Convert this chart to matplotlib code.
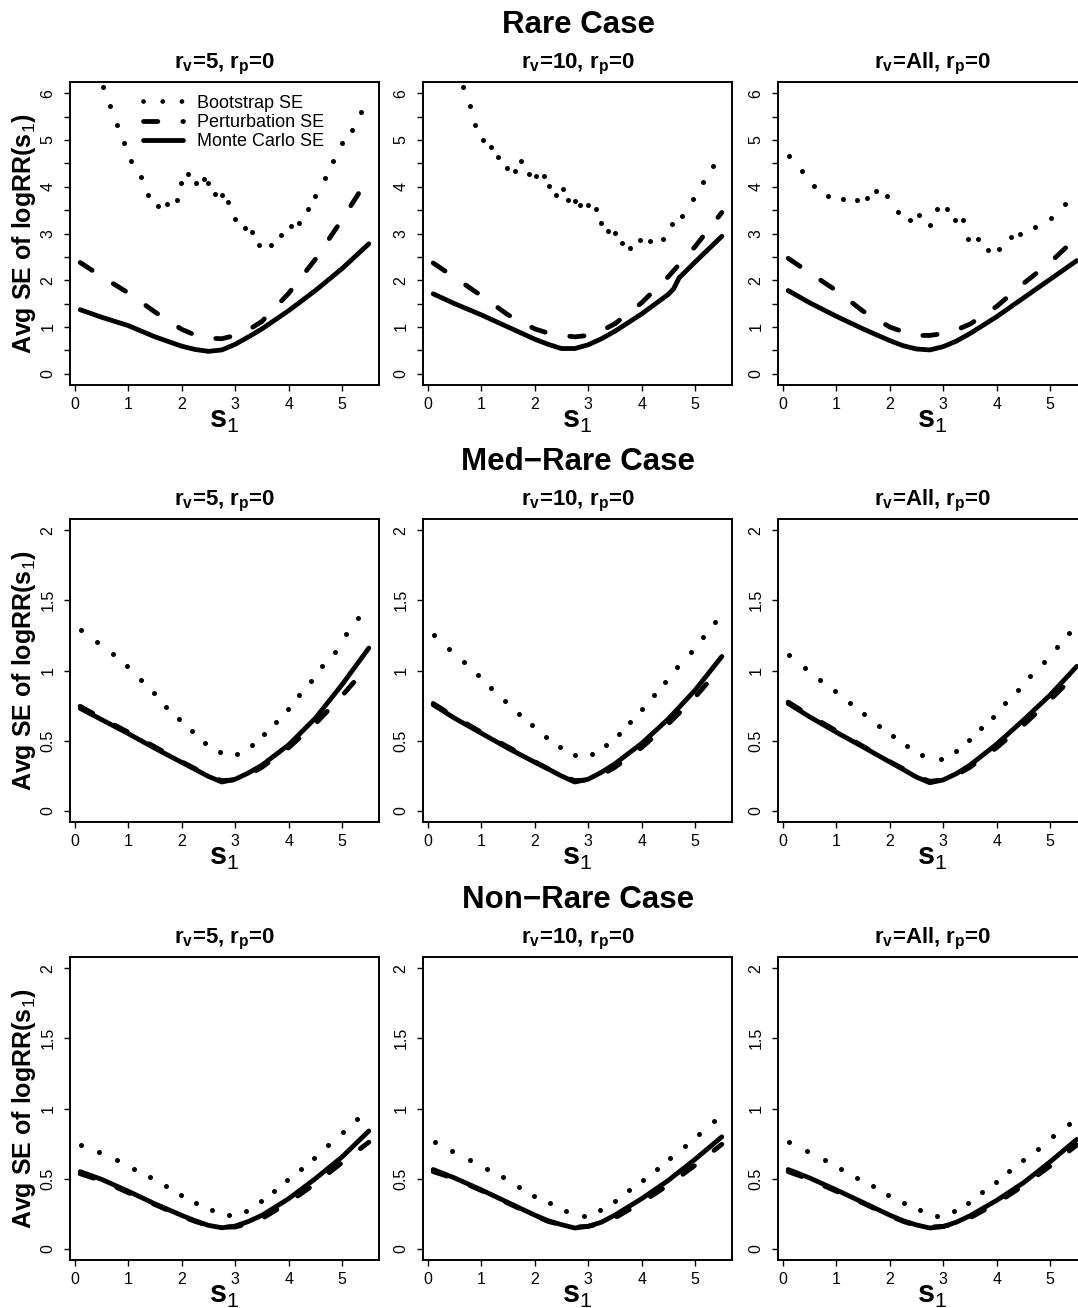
import numpy as np
import matplotlib
matplotlib.use("Agg")
import matplotlib.pyplot as plt
from matplotlib.lines import Line2D

plt.rcParams['font.family'] = ['Liberation Sans', 'DejaVu Sans']
plt.rcParams['mathtext.fontset'] = 'custom'
plt.rcParams['mathtext.rm'] = 'Liberation Sans'
plt.rcParams['mathtext.bf'] = 'Liberation Sans:bold'
plt.rcParams['mathtext.it'] = 'Liberation Sans:italic'

# common grid of s1 for the smooth curves
s1 = [0.1, 0.5, 1.0, 1.5, 2.0, 2.25, 2.5, 2.75, 3.0, 3.25, 3.5, 4.0, 4.5, 5.0, 5.5]
s1_kink = [0.1, 0.5, 1.0, 1.5, 2.0, 2.25, 2.5, 2.75, 3.0, 3.25, 3.5, 4.0, 4.5, 4.6, 4.7, 5.0, 5.5]

row_titles = ['Rare Case', 'Med\u2212Rare Case', 'Non\u2212Rare Case']
col_titles = ['r$_\\mathbf{v}$=5, r$_\\mathbf{p}$=0',
              'r$_\\mathbf{v}$=10, r$_\\mathbf{p}$=0',
              'r$_\\mathbf{v}$=All, r$_\\mathbf{p}$=0']

# ---- Rare case ----
mc_rare_5 = [1.37, 1.21, 1.03, 0.79, 0.59, 0.52, 0.48, 0.51, 0.63, 0.79, 0.96, 1.35, 1.78, 2.25, 2.78]
pt_rare_5 = [2.38, 2.08, 1.73, 1.32, 0.95, 0.83, 0.76, 0.75, 0.82, 0.94, 1.12, 1.72, 2.45, 3.30, 4.20]
bx_rare_5 = [0.53, 0.66, 0.79, 0.92, 1.05, 1.23, 1.36, 1.55, 1.73, 1.92, 1.99, 2.12, 2.27, 2.41, 2.49, 2.62, 2.76,
             2.87, 2.99, 3.18, 3.31, 3.44, 3.67, 3.85, 4.05, 4.20, 4.37, 4.50, 4.68, 4.83, 4.99, 5.18, 5.35]
by_rare_5 = [6.13, 5.73, 5.33, 4.94, 4.55, 4.21, 3.82, 3.59, 3.64, 3.71, 4.08, 4.27, 4.08, 4.16, 4.09, 3.84, 3.82,
             3.67, 3.30, 3.12, 3.04, 2.76, 2.76, 2.96, 3.16, 3.23, 3.52, 3.81, 4.18, 4.55, 4.94, 5.22, 5.60]

mc_rare_10 = [1.71, 1.50, 1.26, 1.00, 0.74, 0.63, 0.54, 0.54, 0.62, 0.75, 0.91, 1.28, 1.70, 1.82, 2.05, 2.39, 2.94]
pt_rare_10 = [2.37, 2.06, 1.67, 1.26, 0.96, 0.87, 0.82, 0.79, 0.82, 0.92, 1.07, 1.52, 2.08, 2.72, 3.45]
bx_rare_10 = [0.65, 0.78, 0.89, 1.04, 1.18, 1.32, 1.49, 1.63, 1.74, 1.89, 2.02, 2.17, 2.27, 2.40, 2.53, 2.63, 2.75,
              2.85, 3.00, 3.15, 3.24, 3.37, 3.51, 3.64, 3.78, 3.96, 4.15, 4.39, 4.57, 4.76, 4.96, 5.15, 5.33]
by_rare_10 = [6.13, 5.73, 5.33, 5.00, 4.85, 4.63, 4.40, 4.34, 4.54, 4.28, 4.23, 4.22, 4.01, 3.83, 3.96, 3.71, 3.70,
              3.62, 3.62, 3.53, 3.22, 3.06, 3.01, 2.79, 2.70, 2.86, 2.84, 2.89, 3.21, 3.38, 3.73, 4.10, 4.45]

mc_rare_all = [1.78, 1.52, 1.23, 0.96, 0.71, 0.60, 0.53, 0.51, 0.58, 0.70, 0.86, 1.22, 1.62, 2.02, 2.42]
pt_rare_all = [2.47, 2.16, 1.78, 1.34, 1.00, 0.90, 0.82, 0.82, 0.86, 0.94, 1.06, 1.44, 1.93, 2.38, 2.92]
bx_rare_all = [0.12, 0.36, 0.59, 0.85, 1.12, 1.39, 1.57, 1.74, 1.94, 2.15, 2.37, 2.55, 2.76, 2.89, 3.07, 3.22,
               3.37, 3.47, 3.65, 3.84, 4.05, 4.27, 4.43, 4.71, 5.02, 5.27]
by_rare_all = [4.65, 4.33, 4.01, 3.81, 3.73, 3.71, 3.75, 3.91, 3.80, 3.45, 3.28, 3.39, 3.19, 3.52, 3.52, 3.28,
               3.28, 2.89, 2.89, 2.65, 2.66, 2.92, 2.98, 3.13, 3.33, 3.64]

# ---- Med-rare case ----
mc_med_5 = [0.73, 0.65, 0.55, 0.445, 0.345, 0.295, 0.245, 0.205, 0.225, 0.27, 0.325, 0.47, 0.66, 0.90, 1.16]
pt_med_5 = [0.745, 0.66, 0.56, 0.455, 0.35, 0.30, 0.25, 0.215, 0.22, 0.255, 0.31, 0.45, 0.62, 0.82, 1.04]
bx_med_5 = [0.11, 0.42, 0.72, 0.98, 1.23, 1.48, 1.71, 1.95, 2.19, 2.44, 2.72, 3.04, 3.31, 3.54, 3.77, 3.99,
            4.20, 4.41, 4.63, 4.86, 5.08, 5.29]
by_med_5 = [1.29, 1.205, 1.12, 1.035, 0.932, 0.837, 0.741, 0.653, 0.57, 0.486, 0.422, 0.403, 0.467, 0.546,
            0.634, 0.729, 0.827, 0.927, 1.035, 1.135, 1.259, 1.373]

mc_med_10 = [0.756, 0.66, 0.553, 0.446, 0.346, 0.298, 0.248, 0.205, 0.225, 0.275, 0.335, 0.48, 0.655, 0.86, 1.10]
pt_med_10 = [0.765, 0.67, 0.56, 0.455, 0.35, 0.30, 0.25, 0.215, 0.22, 0.255, 0.31, 0.45, 0.62, 0.81, 1.03]
bx_med_10 = [0.12, 0.40, 0.67, 0.93, 1.19, 1.45, 1.70, 1.95, 2.21, 2.47, 2.75, 3.08, 3.34, 3.58, 3.79, 4.01,
             4.23, 4.44, 4.67, 4.92, 5.15, 5.38]
by_med_10 = [1.25, 1.156, 1.06, 0.968, 0.872, 0.784, 0.691, 0.608, 0.529, 0.453, 0.398, 0.405, 0.467, 0.548,
             0.634, 0.727, 0.825, 0.92, 1.025, 1.132, 1.24, 1.349]

mc_med_all = [0.765, 0.67, 0.56, 0.455, 0.348, 0.295, 0.24, 0.20, 0.22, 0.265, 0.325, 0.475, 0.646, 0.825, 1.03]
pt_med_all = [0.775, 0.68, 0.57, 0.46, 0.35, 0.30, 0.245, 0.21, 0.22, 0.255, 0.31, 0.45, 0.61, 0.79, 0.98]
bx_med_all = [0.11, 0.41, 0.70, 0.98, 1.25, 1.52, 1.79, 2.07, 2.33, 2.61, 2.96, 3.24, 3.49, 3.71, 3.94, 4.16,
              4.39, 4.63, 4.89, 5.12, 5.35]
by_med_all = [1.11, 1.02, 0.932, 0.853, 0.77, 0.689, 0.605, 0.534, 0.46, 0.40, 0.372, 0.427, 0.503, 0.589,
              0.672, 0.765, 0.863, 0.958, 1.063, 1.166, 1.27]

# ---- Non-rare case ----
mc_non_5 = [0.55, 0.495, 0.41, 0.32, 0.238, 0.20, 0.167, 0.15, 0.162, 0.195, 0.238, 0.357, 0.50, 0.655, 0.84]
pt_non_5 = [0.535, 0.485, 0.40, 0.315, 0.23, 0.195, 0.165, 0.155, 0.155, 0.18, 0.215, 0.33, 0.465, 0.615, 0.76]
bx_non_5 = [0.11, 0.46, 0.79, 1.11, 1.41, 1.71, 1.99, 2.27, 2.56, 2.89, 3.21, 3.48, 3.73, 3.97, 4.23, 4.47,
            4.74, 5.01, 5.27]
by_non_5 = [0.743, 0.69, 0.633, 0.571, 0.51, 0.45, 0.386, 0.326, 0.276, 0.24, 0.271, 0.338, 0.41, 0.493,
            0.571, 0.65, 0.738, 0.829, 0.926]

mc_non_10 = [0.565, 0.505, 0.42, 0.33, 0.24, 0.20, 0.172, 0.148, 0.16, 0.19, 0.24, 0.357, 0.488, 0.638, 0.798]
pt_non_10 = [0.55, 0.50, 0.415, 0.325, 0.235, 0.195, 0.17, 0.155, 0.16, 0.18, 0.22, 0.33, 0.455, 0.595, 0.745]
bx_non_10 = [0.13, 0.46, 0.79, 1.10, 1.41, 1.71, 1.99, 2.29, 2.59, 2.92, 3.22, 3.50, 3.77, 4.03, 4.28, 4.53,
             4.81, 5.08, 5.35]
by_non_10 = [0.76, 0.698, 0.636, 0.571, 0.51, 0.44, 0.379, 0.326, 0.271, 0.236, 0.276, 0.34, 0.417, 0.488,
             0.567, 0.648, 0.736, 0.821, 0.912]

mc_non_all = [0.565, 0.505, 0.42, 0.33, 0.24, 0.20, 0.17, 0.148, 0.158, 0.19, 0.235, 0.345, 0.47, 0.62, 0.78]
pt_non_all = [0.55, 0.495, 0.41, 0.325, 0.235, 0.195, 0.165, 0.155, 0.16, 0.18, 0.22, 0.325, 0.45, 0.59, 0.74]
bx_non_all = [0.12, 0.45, 0.78, 1.09, 1.38, 1.68, 1.97, 2.27, 2.56, 2.89, 3.20, 3.47, 3.73, 3.99, 4.24, 4.49,
              4.78, 5.06, 5.35]
by_non_all = [0.76, 0.698, 0.636, 0.571, 0.507, 0.445, 0.383, 0.326, 0.276, 0.236, 0.267, 0.329, 0.405, 0.476,
              0.552, 0.631, 0.714, 0.805, 0.888]

panels = [
    [(s1, mc_rare_5, pt_rare_5, bx_rare_5, by_rare_5),
     (s1_kink, mc_rare_10, pt_rare_10, bx_rare_10, by_rare_10),
     (s1, mc_rare_all, pt_rare_all, bx_rare_all, by_rare_all)],
    [(s1, mc_med_5, pt_med_5, bx_med_5, by_med_5),
     (s1, mc_med_10, pt_med_10, bx_med_10, by_med_10),
     (s1, mc_med_all, pt_med_all, bx_med_all, by_med_all)],
    [(s1, mc_non_5, pt_non_5, bx_non_5, by_non_5),
     (s1, mc_non_10, pt_non_10, bx_non_10, by_non_10),
     (s1, mc_non_all, pt_non_all, bx_non_all, by_non_all)],
]

W, H = 1078, 1308
fig = plt.figure(figsize=(W / 100, H / 100), dpi=100)

col_left = [70, 423, 778]
row_top = [82, 519, 957]
pw, ph = 309, 303
lw = 3.45
dash_style = (0, (3.0, 5.2))
dot_style = (0, (0.01, 4.0))

for r in range(3):
    fig.text(578 / W, 1 - (row_top[r] - 49) / H, row_titles[r], ha='center', va='baseline',
             fontsize=22.5, fontweight='bold')
    for c in range(3):
        xs, mc, pt, bx, by = panels[r][c]
        l, t = col_left[c], row_top[r]
        ax = fig.add_axes([l / W, 1 - (t + ph) / H, pw / W, ph / H])
        # monte carlo solid, perturbation dashed, bootstrap dotted
        ax.plot(xs, mc, color='black', lw=lw, solid_capstyle='round', solid_joinstyle='round')
        ax.plot(s1, pt, color='black', lw=lw, linestyle=dash_style, dash_capstyle='round')
        ax.plot(bx, by, linestyle='none', marker='o', markersize=3.6, markeredgewidth=0, color='black')

        ax.set_xlim(-0.09, 5.69)
        ax.set_xticks([0, 1, 2, 3, 4, 5])
        if r == 0:
            ax.set_ylim(-0.24, 6.24)
            yt = np.arange(0, 6.01, 0.5)
            ax.set_yticks(yt)
            ax.set_yticklabels([str(int(v)) if v == int(v) else '' for v in yt])
        else:
            ax.set_ylim(-0.08, 2.08)
            ax.set_yticks([0, 0.5, 1, 1.5, 2])
            ax.set_yticklabels(['0', '0.5', '1', '1.5', '2'])
        for sp in ax.spines.values():
            sp.set_linewidth(1.4)
        ax.tick_params(axis='both', direction='out', length=4.3, width=1.0, labelsize=11.5)
        ax.tick_params(axis='x', pad=4.5)
        ax.tick_params(axis='y', pad=6)
        for lab in ax.get_yticklabels():
            lab.set_rotation(90)
            lab.set_va('center')

        fig.text((l + pw / 2) / W, 1 - (t - 14) / H, col_titles[c], ha='center', va='baseline',
                 fontsize=16, fontweight='bold')
        ax.text(0.5, -43 / ph, 's$_\\mathrm{1}$', transform=ax.transAxes, ha='center',
                va='baseline', fontsize=22, fontweight='bold')
        if c == 0:
            ax.text(-46 / pw, 0.5, 'Avg SE of logRR(s$_\\mathrm{1}$)', transform=ax.transAxes,
                    rotation=90, ha='center', va='center', fontsize=18, fontweight='bold')
        if r == 0 and c == 0:
            handles = [Line2D([], [], color='black', lw=lw, linestyle=dot_style, dash_capstyle='round'),
                       Line2D([], [], color='black', lw=lw, linestyle=dash_style, dash_capstyle='round'),
                       Line2D([], [], color='black', lw=lw, solid_capstyle='round')]
            ax.legend(handles, ['Bootstrap SE', 'Perturbation SE', 'Monte Carlo SE'],
                      loc='upper left', bbox_to_anchor=(0.236, 0.958), frameon=False,
                      fontsize=13, handlelength=2.2, handletextpad=0.8, labelspacing=0.12,
                      borderpad=0, borderaxespad=0)

fig.savefig('out.png', dpi=100)
